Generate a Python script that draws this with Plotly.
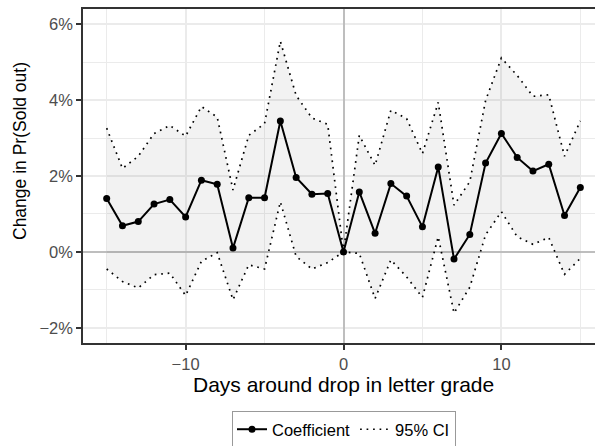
import plotly.graph_objects as go

days = [-15, -14, -13, -12, -11, -10, -9, -8, -7, -6, -5, -4, -3, -2, -1, 0,
        1, 2, 3, 4, 5, 6, 7, 8, 9, 10, 11, 12, 13, 14, 15]
coef = [1.41, 0.69, 0.80, 1.26, 1.38, 0.92, 1.89, 1.78, 0.10, 1.43, 1.43, 3.45,
        1.96, 1.52, 1.54, 0.00, 1.58, 0.49, 1.80, 1.47, 0.66, 2.24, -0.19, 0.46,
        2.34, 3.12, 2.49, 2.13, 2.31, 0.96, 1.70]
upper = [3.26, 2.20, 2.52, 3.12, 3.33, 3.05, 3.83, 3.55, 1.63, 3.07, 3.38, 5.55,
         4.12, 3.53, 3.36, 0.00, 3.07, 2.28, 3.73, 3.51, 2.59, 3.94, 1.23, 1.85,
         3.99, 5.11, 4.65, 4.10, 4.14, 2.52, 3.45]
lower = [-0.45, -0.78, -0.95, -0.60, -0.56, -1.15, -0.25, -0.02, -1.26, -0.34, -0.45, 1.32,
         -0.12, -0.45, -0.28, 0.00, -0.04, -1.23, -0.21, -0.66, -1.20, 0.40, -1.61, -0.93,
         0.45, 1.06, 0.40, 0.20, 0.38, -0.59, -0.17]

y_tickvals = [-2, 0, 2, 4, 6]
y_ticktext = ["\u22122%", "0%", "2%", "4%", "6%"]
x_tickvals = [-10, 0, 10]
x_ticktext = ["\u221210", "0", "10"]

FONT = "Liberation Sans, Arial, Helvetica, sans-serif"
W, H = 595, 446
ML, MT, MB, MR = 83, 9, 103, 0
dot_dash = "1.7px,4.8px"

fig = go.Figure()
# ribbon
fig.add_trace(go.Scatter(x=days, y=lower, mode="lines", line=dict(width=0),
                         showlegend=False, hoverinfo="skip"))
fig.add_trace(go.Scatter(x=days, y=upper, mode="lines", line=dict(width=0),
                         fill="tonexty", fillcolor="rgba(0,0,0,0.05)",
                         showlegend=False, hoverinfo="skip"))
# CI dotted lines
fig.add_trace(go.Scatter(x=days, y=lower, mode="lines", name="95% CI",
                         line=dict(color="black", width=1.7, dash=dot_dash),
                         legendgroup="ci", showlegend=False, legendrank=2))
fig.add_trace(go.Scatter(x=days, y=upper, mode="lines", name="95% CI",
                         line=dict(color="black", width=1.7, dash=dot_dash),
                         legendgroup="ci", showlegend=True, legendrank=2))
# coefficient
fig.add_trace(go.Scatter(x=days, y=coef, mode="lines+markers", name="Coefficient",
                         line=dict(color="black", width=2),
                         marker=dict(color="black", size=7),
                         showlegend=True, legendrank=1))

plot_w = W - ML - MR
plot_h = H - MT - MB

fig.update_layout(
    width=W, height=H,
    margin=dict(l=ML, r=MR, t=MT, b=MB, pad=0),
    paper_bgcolor="white", plot_bgcolor="white",
    font=dict(family=FONT, size=16.5, color="#4D4D4D"),
    xaxis=dict(
        range=[-16.5, 15.93], tickvals=x_tickvals, ticktext=x_ticktext,
        showgrid=True, gridcolor="#EBEBEB", gridwidth=1.6,
        minor=dict(dtick=5, tick0=0, showgrid=True, gridcolor="#EBEBEB", gridwidth=0.8),
        zeroline=True, zerolinecolor="#BEBEBE", zerolinewidth=2,
        showline=True, linecolor="#333333", linewidth=1.6, mirror=True,
        ticks="outside", ticklen=5, tickwidth=1.5, tickcolor="#333333",
        tickfont=dict(size=16.5, color="#4D4D4D"),
        fixedrange=True,
    ),
    yaxis=dict(
        range=[-2.4, 6.4], tickvals=y_tickvals, ticktext=y_ticktext,
        showgrid=True, gridcolor="#EBEBEB", gridwidth=1.6,
        minor=dict(dtick=1, tick0=0, showgrid=True, gridcolor="#EBEBEB", gridwidth=0.8),
        zeroline=True, zerolinecolor="#BEBEBE", zerolinewidth=2,
        showline=True, linecolor="#333333", linewidth=1.6, mirror=False,
        ticks="outside", ticklen=5, tickwidth=1.5, tickcolor="#333333",
        tickfont=dict(size=16.5, color="#4D4D4D"),
        fixedrange=True,
    ),
    legend=dict(
        orientation="h", xref="paper", yref="container",
        x=(344 - ML) / plot_w, xanchor="center",
        y=1 - 411 / H, yanchor="top",
        bordercolor="#999999", borderwidth=1,
        font=dict(family=FONT, size=16.5, color="black"),
        bgcolor="white",
    ),
    annotations=[
        dict(text="Days around drop in letter grade", xref="x", x=0,
             yref="paper", y=-(384 - (MT + plot_h)) / plot_h, yanchor="middle",
             xanchor="center", showarrow=False,
             font=dict(family=FONT, size=21, color="black")),
        dict(text="Change in Pr(Sold out)", xref="paper", x=(20 - ML) / plot_w,
             yref="paper", y=1 - (151 - MT) / plot_h, xanchor="center", yanchor="middle",
             textangle=-90, showarrow=False,
             font=dict(family=FONT, size=17.5, color="black")),
    ],
)

fig.write_html("out.html")
